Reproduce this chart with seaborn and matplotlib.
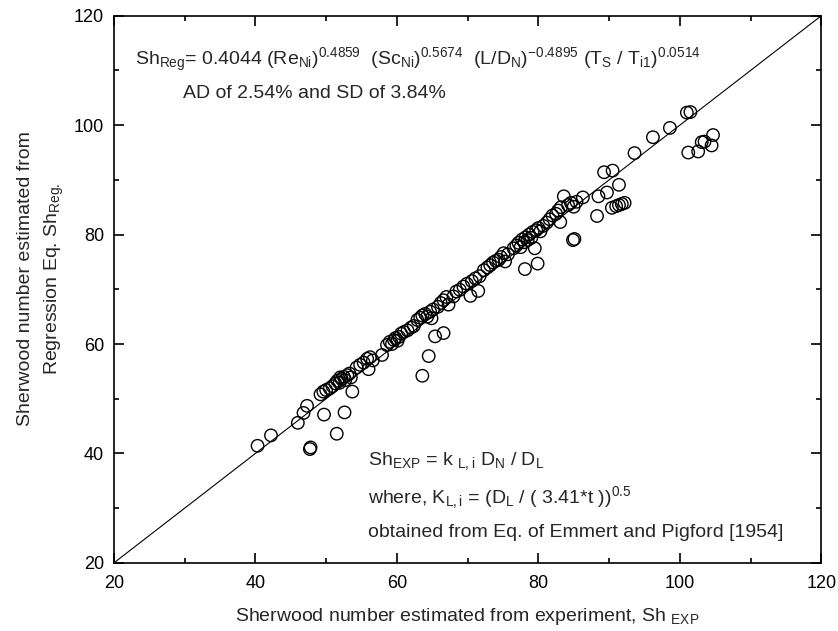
import numpy as np
import pandas as pd
import matplotlib
matplotlib.use('Agg')
import matplotlib.pyplot as plt
import seaborn as sns

# Sherwood numbers: experiment vs regression estimate
sh_exp = [
    40.3, 42.2, 46.0, 46.8, 47.3, 47.7, 47.8, 49.7, 51.5, 52.6, 53.7,
    63.6, 64.5, 65.4, 66.6,
    49.2, 49.6, 50.0, 50.5, 50.9, 51.3, 51.6, 51.9, 52.2, 52.5, 52.7, 53.0, 53.3, 53.5, 52.0,
    54.3, 54.8, 55.3, 55.8, 56.2, 56.0, 56.6, 57.9,
    58.6, 59.0, 59.3, 59.6, 59.8, 60.1, 60.3, 60.6,
    61.0, 61.5, 62.0, 62.4,
    62.9, 63.3, 63.6, 64.0, 64.3, 64.7, 64.9, 65.1,
    65.8, 66.2, 66.6, 67.0, 67.3,
    68.0, 68.4, 68.9, 69.4, 69.9, 70.4, 70.6, 71.1, 71.5, 71.7,
    72.3, 72.8, 73.2, 73.6, 74.0, 74.4, 74.7, 75.1, 75.3, 75.7,
    76.5, 76.9, 77.2, 77.5, 77.7, 78.0, 78.2, 78.5, 78.7, 79.0, 79.2, 79.5, 79.7, 80.0, 80.3,
    78.1, 79.9,
    80.7, 81.2, 81.6, 82.0, 82.5, 83.1,
    82.8, 83.2, 83.6, 84.2, 84.6, 85.0, 85.4, 86.3,
    85.1, 84.9,
    88.3, 88.5, 89.7, 89.3, 90.5, 91.4,
    90.4, 91.0, 91.4, 91.8, 92.2,
    93.6, 96.2, 98.6, 101.0, 101.5,
    101.2, 102.6, 103.1, 103.5, 104.7, 104.5,
]
sh_reg = [
    41.4, 43.3, 45.6, 47.4, 48.7, 40.8, 41.1, 47.1, 43.6, 47.5, 51.3,
    54.2, 57.8, 61.4, 62.0,
    50.8, 51.3, 51.6, 51.9, 52.3, 52.8, 53.3, 52.9, 53.6, 54.0, 53.4, 54.3, 54.6, 53.9, 53.9,
    55.7, 56.2, 56.6, 57.3, 57.6, 55.4, 57.0, 58.0,
    59.8, 60.4, 60.0, 60.7, 61.1, 60.6, 61.3, 61.9,
    62.2, 62.5, 63.0, 63.3,
    64.4, 64.8, 65.2, 65.5, 65.0, 65.9, 64.7, 66.3,
    66.8, 67.5, 68.0, 68.6, 67.2,
    68.7, 69.6, 69.9, 70.5, 71.0, 68.8, 71.5, 72.0, 69.7, 72.4,
    73.5, 74.0, 74.4, 74.9, 75.2, 75.4, 75.9, 76.6, 75.1, 76.4,
    77.5, 78.0, 78.5, 77.7, 79.1, 78.6, 79.5, 79.0, 80.0, 79.4, 80.5, 77.5, 80.8, 81.2, 80.6,
    73.7, 74.7,
    81.6, 82.2, 82.8, 83.5, 83.8, 82.3,
    84.4, 85.0, 87.0, 85.4, 85.8, 85.1, 86.0, 86.8,
    79.2, 79.0,
    83.4, 87.0, 87.7, 91.4, 91.7, 89.1,
    84.9, 85.2, 85.4, 85.6, 85.8,
    94.9, 97.8, 99.5, 102.3, 102.4,
    95.0, 95.2, 96.9, 97.0, 98.2, 96.3,
]
axis_range = [20, 120]

df = pd.DataFrame({'exp': sh_exp, 'reg': sh_reg})

sns.set_style('ticks')
plt.rcParams['font.family'] = ['Liberation Sans', 'DejaVu Sans']
plt.rcParams['mathtext.fontset'] = 'custom'
plt.rcParams['mathtext.rm'] = 'Liberation Sans'
plt.rcParams['mathtext.it'] = 'Liberation Sans'

fig = plt.figure(figsize=(8.38, 6.31), dpi=100)
ax = fig.add_axes([0.136, 0.108, 0.844, 0.867])

# parity line
ax.plot(axis_range, axis_range, color='black', lw=0.8)

sns.scatterplot(data=df, x='exp', y='reg', ax=ax, marker='o', s=80,
                facecolor='none', edgecolor='black', linewidth=1.0)

ax.set_xlim(axis_range)
ax.set_ylim(axis_range)
ax.set_xticks(np.arange(20, 121, 20))
ax.set_yticks(np.arange(20, 121, 20))
ax.set_xticks(np.arange(30, 120, 20), minor=True)
ax.set_yticks(np.arange(30, 120, 20), minor=True)
ax.tick_params(which='both', direction='in', top=True, right=True, labelsize=13,
               width=1.2, colors='black')
ax.tick_params(which='major', length=7)
ax.tick_params(which='minor', length=3.5)
ax.tick_params(axis='x', which='major', pad=9)
ax.tick_params(axis='y', which='major', pad=7)
for sp in ax.spines.values():
    sp.set_linewidth(1.2)
    sp.set_color('black')

ax.set_xlabel(r'Sherwood number estimated from experiment, Sh $_{\rm EXP}$', fontsize=14)
ax.set_ylabel('Sherwood number estimated from\n' + r'Regression Eq. Sh$_{\rm Reg.}$',
              fontsize=14, linespacing=1.55)
ax.xaxis.set_label_coords(0.5, -0.078)
ax.yaxis.set_label_coords(-0.068, 0.52)

ax.text(0.030, 0.910,
        r'Sh$_{\rm Reg}$= 0.4044 (Re$_{\rm Ni}$)$^{0.4859}$  (Sc$_{\rm Ni}$)$^{0.5674}$  '
        r'(L/D$_{\rm N}$)$^{-0.4895}$ (T$_{\rm S}$ / T$_{\rm i1}$)$^{0.0514}$',
        transform=ax.transAxes, fontsize=14, va='baseline')
ax.text(0.098, 0.850, 'AD of 2.54% and SD of 3.84%', transform=ax.transAxes,
        fontsize=14, va='baseline')

ax.text(0.359, 0.179, r'Sh$_{\rm EXP}$ = k $_{\rm L,i}$ D$_{\rm N}$ / D$_{\rm L}$',
        transform=ax.transAxes, fontsize=14, va='baseline')
ax.text(0.359, 0.109, r'where, K$_{\rm L,i}$ = (D$_{\rm L}$ / ( 3.41*t ))$^{0.5}$',
        transform=ax.transAxes, fontsize=14, va='baseline')
ax.text(0.359, 0.048, 'obtained from Eq. of Emmert and Pigford [1954]',
        transform=ax.transAxes, fontsize=14, va='baseline')

fig.savefig('out.png', dpi=100)
